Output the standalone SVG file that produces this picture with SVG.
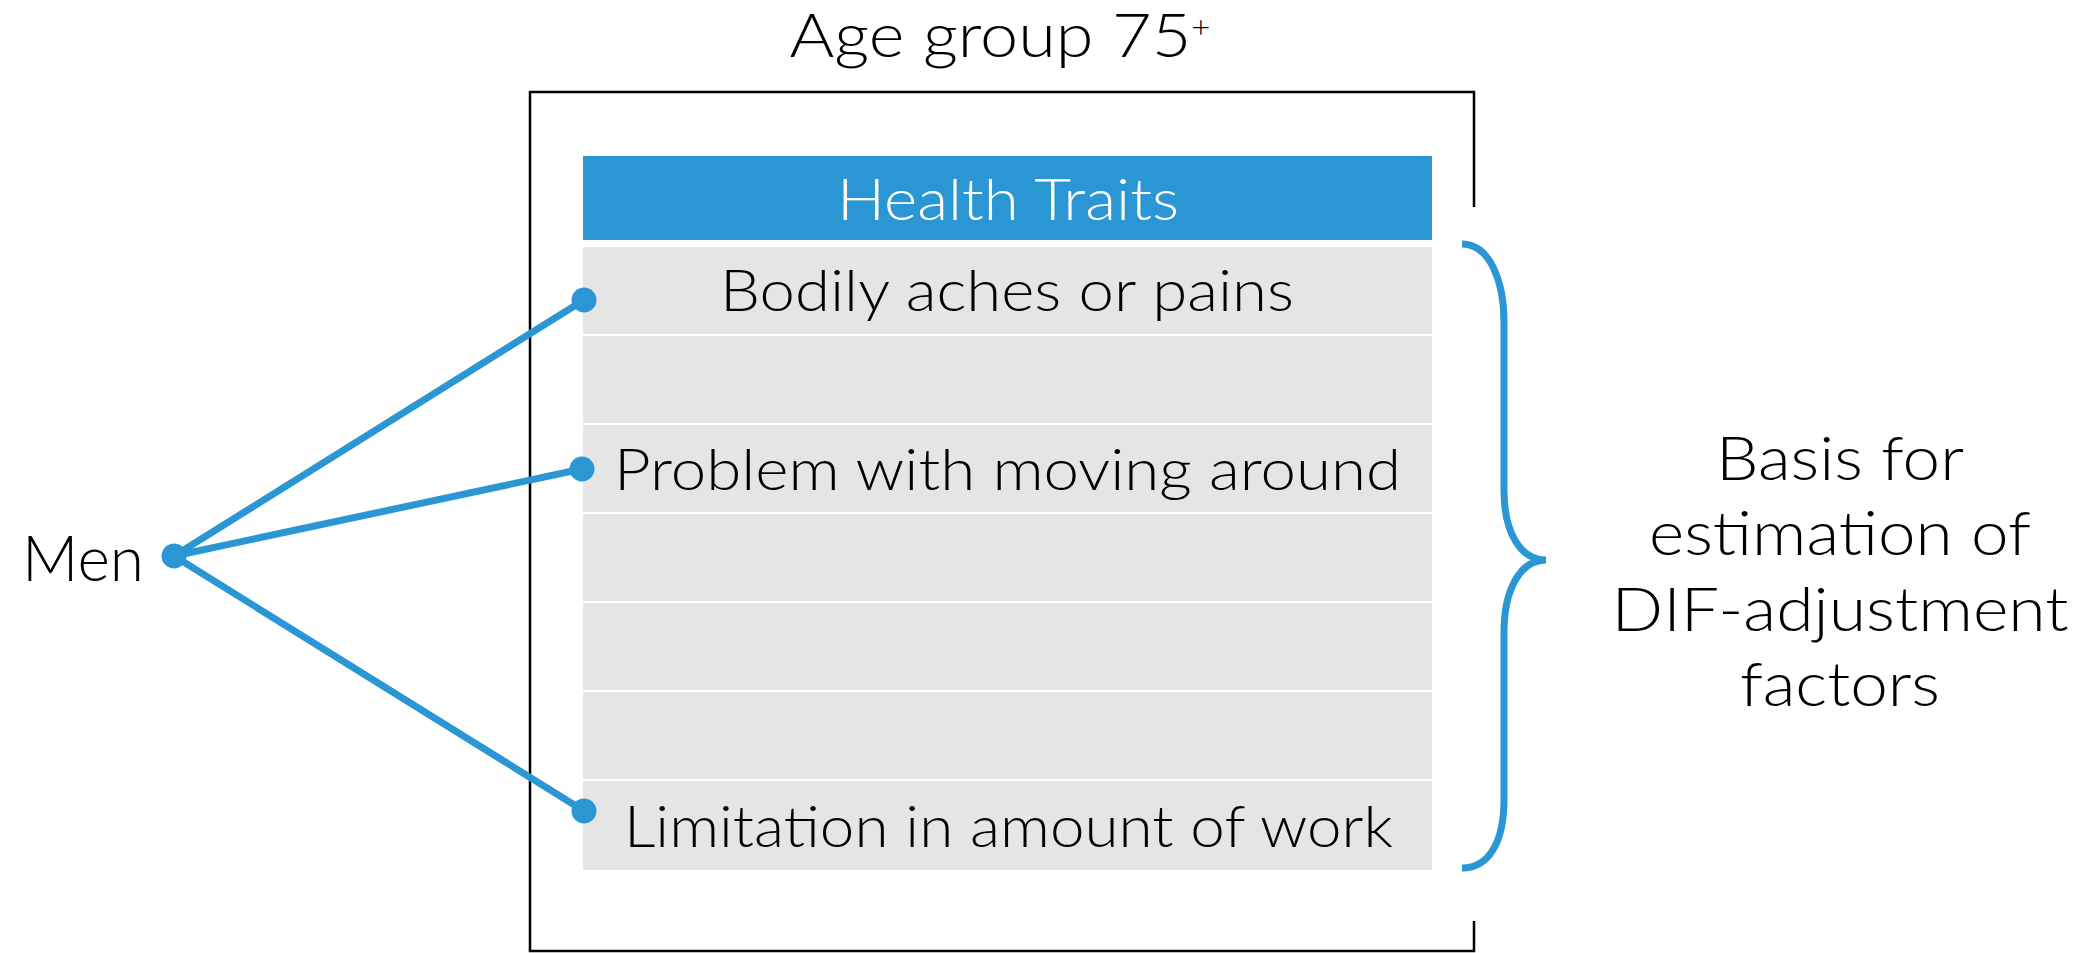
<svg xmlns="http://www.w3.org/2000/svg" width="2092" height="953" viewBox="0 0 2092 953">
<style>
.t{font-family:Lato,"Open Sans","Liberation Sans",sans-serif;font-weight:300;fill:#000;}
.row{fill:#e5e5e5;}
.conn{stroke:#2a96d4;stroke-width:7;fill:none;stroke-linecap:round;}
.dot{fill:#2a96d4;}
</style>
<rect width="2092" height="953" fill="#fff"/>
<g id="title">
<text class="t" x="1000" y="57" font-size="62" text-anchor="middle" textLength="421" lengthAdjust="spacingAndGlyphs">Age group 75<tspan font-size="30" dy="-19">+</tspan></text>
</g>
<g id="frame">
<path d="M1474,207 L1474,92 L530,92 L530,951 L1474,951 L1474,921" fill="none" stroke="#000" stroke-width="2.5"/>
</g>
<g id="header">
<rect x="583" y="156" width="849" height="84" fill="#2a96d4"/>
<text class="t" x="1008" y="220" font-size="58" text-anchor="middle" style="fill:#fff" textLength="342" lengthAdjust="spacingAndGlyphs">Health Traits</text>
</g>
<g id="rows">
<rect class="row" x="583" y="247" width="849" height="87"/>
<rect class="row" x="583" y="336" width="849" height="87"/>
<rect class="row" x="583" y="425" width="849" height="87"/>
<rect class="row" x="583" y="514" width="849" height="87"/>
<rect class="row" x="583" y="603" width="849" height="87"/>
<rect class="row" x="583" y="692" width="849" height="87"/>
<rect class="row" x="583" y="781" width="849" height="89"/>
</g>
<g id="trait-bodily">
<text class="t" x="1007" y="311" font-size="58" text-anchor="middle" textLength="574" lengthAdjust="spacingAndGlyphs">Bodily aches or pains</text>
</g>
<g id="trait-moving">
<text class="t" x="1007.5" y="490" font-size="58" text-anchor="middle" textLength="787" lengthAdjust="spacingAndGlyphs">Problem with moving around</text>
</g>
<g id="trait-work">
<text class="t" x="1008.5" y="847" font-size="58" text-anchor="middle" textLength="769" lengthAdjust="spacingAndGlyphs">Limitation in amount of work</text>
</g>
<g id="men">
<text class="t" x="22" y="581" font-size="64" textLength="122" lengthAdjust="spacingAndGlyphs">Men</text>
</g>
<g id="connectors">
<line class="conn" x1="174" y1="556" x2="584" y2="300"/>
<line class="conn" x1="174" y1="556" x2="582" y2="469"/>
<line class="conn" x1="174" y1="556" x2="584" y2="811"/>
<circle class="dot" cx="174" cy="556" r="12.5"/>
<circle class="dot" cx="584" cy="300" r="12.5"/>
<circle class="dot" cx="582" cy="469" r="12.5"/>
<circle class="dot" cx="584" cy="811" r="12.5"/>
</g>
<g id="brace">
<path d="M1462,244 C1490,244 1504,282 1504,322 L1504,490 C1504,532 1520,560 1546,560 C1520,560 1504,590 1504,632 L1504,800 C1504,840 1490,868 1462,868" fill="none" stroke="#2a96d4" stroke-width="7"/>
</g>
<g id="basis">
<text class="t" x="1840" y="480" font-size="62" text-anchor="middle" textLength="248" lengthAdjust="spacingAndGlyphs">Basis for</text>
<text class="t" x="1840" y="555" font-size="62" text-anchor="middle" textLength="382" lengthAdjust="spacingAndGlyphs">estimation of</text>
<text class="t" x="1840" y="631" font-size="62" text-anchor="middle" textLength="457" lengthAdjust="spacingAndGlyphs">DIF-adjustment</text>
<text class="t" x="1840" y="706" font-size="62" text-anchor="middle" textLength="200" lengthAdjust="spacingAndGlyphs">factors</text>
</g>
</svg>
